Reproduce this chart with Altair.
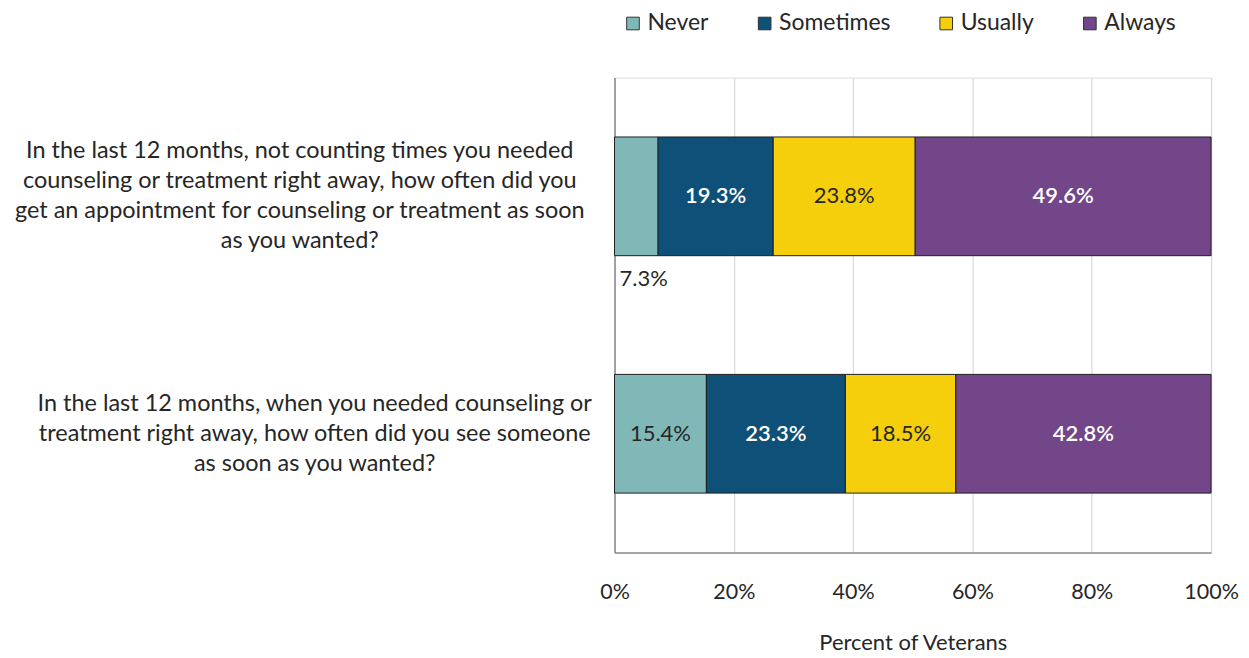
import altair as alt
import pandas as pd

questions = [
    "In the last 12 months, not counting times you needed|counseling or treatment right away, how often did you|get an appointment for counseling or treatment as soon|as you wanted?",
    "In the last 12 months, when you needed counseling or|treatment right away, how often did you see someone|as soon as you wanted?",
]
responses = ["Never", "Sometimes", "Usually", "Always"]
q1_values = [7.3, 19.3, 23.8, 49.6]
q2_values = [15.4, 23.3, 18.5, 42.8]
colors = ["#80B8B7", "#0E5078", "#F5CF0C", "#734689"]
label_dark = ["Never", "Usually"]
tick_values = [0, 20, 40, 60, 80, 100]

FONT = "Lato"
TXT = "#262626"

rows = []
for q, vals in zip(questions, [q1_values, q2_values]):
    for i, (r, v) in enumerate(zip(responses, vals)):
        rows.append({"question": q, "response": r, "value": v, "order": i,
                     "dark": r in label_dark})
df = pd.DataFrame(rows)

base = alt.Chart(df).transform_stack(
    stack="value", groupby=["question"], as_=["x0", "x1"],
    sort=[alt.SortField("order", order="ascending")]
).transform_calculate(
    mid="(datum.x0 + datum.x1) / 2",
    label="format(datum.value, '.1f') + '%'"
)

# multi-line labels: shift block up so it is centred on the band
line_h = 30
y_enc = alt.Y(
    "question:N", sort=questions,
    scale=alt.Scale(paddingInner=0.5, paddingOuter=0.25),
    axis=alt.Axis(
        title=None, ticks=False, domainColor="#8c8c8c", domainWidth=1.5,
        labelExpr="split(datum.label, '|')", labelAlign="center",
        labelBaseline="middle",
        labelPadding={"condition": {"test": "indexof(datum.label, 'not counting') >= 0", "value": 316}, "value": 301},
        labelOffset={"condition": {"test": "indexof(datum.label, 'not counting') >= 0", "value": -45}, "value": -30},
        labelFontSize=23.5,
        labelLineHeight=line_h, labelLimit=1000, labelColor=TXT, labelFont=FONT,
    ),
)

x_scale = alt.Scale(domain=[0, 100], nice=False)

bars = base.mark_bar(stroke="#1f1f1f", strokeWidth=1).encode(
    y=y_enc,
    x=alt.X(
        "x0:Q", scale=x_scale,
        axis=alt.Axis(
            values=tick_values, labelExpr="datum.value + '%'", ticks=False,
            labelFlush=False,
            domainColor="#8c8c8c", domainWidth=1.5, gridColor="#d9d9d9",
            gridWidth=1.2, labelFontSize=21.5, labelPadding=29, labelColor=TXT,
            labelFont=FONT, title="Percent of Veterans", titleFontSize=22,
            titleFontWeight="normal", titleColor=TXT, titleFont=FONT,
            titlePadding=30,
        ),
    ),
    x2="x1:Q",
    color=alt.Color(
        "response:N",
        scale=alt.Scale(domain=responses, range=colors),
        legend=alt.Legend(
            title=None, orient="none", legendX=7, legendY=-66,
            direction="horizontal", symbolType="square", symbolSize=160,
            symbolStrokeColor="#333333", symbolStrokeWidth=1,
            symbolOpacity=1, labelFontSize=23, labelFont=FONT,
            labelColor=TXT, columnPadding=44, labelOffset=3, padding=0,
        ),
    ),
)

inside_dark = base.transform_filter("datum.value >= 10 && datum.dark").mark_text(
    fontSize=22, font=FONT, color=TXT
).encode(y=alt.Y("question:N", sort=questions), x=alt.X("mid:Q", scale=x_scale), text="label:N")

inside_light = base.transform_filter("datum.value >= 10 && !datum.dark").mark_text(
    fontSize=22, font=FONT, color="white", fontWeight=600
).encode(y=alt.Y("question:N", sort=questions), x=alt.X("mid:Q", scale=x_scale), text="label:N")

outside = base.transform_filter("datum.value < 10").mark_text(
    fontSize=22, font=FONT, color=TXT, align="left", dx=5, dy=83
).encode(y=alt.Y("question:N", sort=questions), x=alt.X("x0:Q", scale=x_scale), text="label:N")

chart = alt.layer(bars, inside_dark, inside_light, outside).properties(
    width=598, height=476,
    autosize=alt.AutoSizeParams(type="none"),
    padding={"left": 608, "top": 69, "right": 30, "bottom": 104},
).configure_view(stroke=None).configure(background="white")

chart.save("out.html", embed_options={"renderer": "svg", "actions": False})
